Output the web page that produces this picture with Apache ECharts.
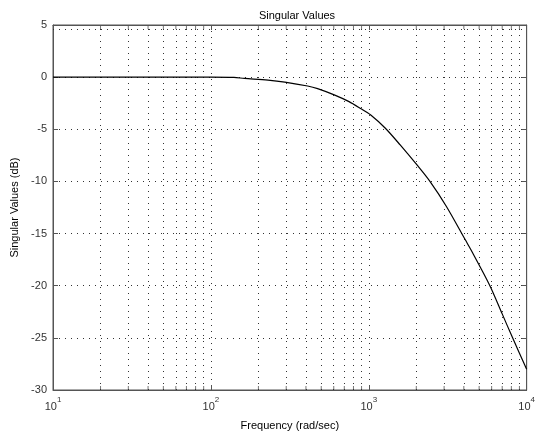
<!DOCTYPE html>
<html>
<head>
<meta charset="utf-8">
<script src="https://cdn.jsdelivr.net/npm/echarts@6/dist/echarts.min.js"></script>
<style>
html,body{margin:0;padding:0;background:#fff;}
#c{width:538px;height:442px;}
</style>
</head>
<body>
<div id="c"></div>
<script>
// Data
const freq = [10, 30, 100, 140, 163, 230, 294, 410, 474, 604, 750, 887, 1025, 1274, 1581, 2014, 2440, 3103, 4087, 4455, 5808, 7000, 8146, 10000];
const gain = [0, 0, 0, -0.03, -0.12, -0.28, -0.47, -0.85, -1.1, -1.7, -2.35, -3.0, -3.6, -4.9, -6.5, -8.4, -10.0, -12.4, -15.6, -16.6, -19.9, -22.7, -25.0, -28.0];
const minorFreq = [20,30,40,50,60,70,80,90,200,300,400,500,600,700,800,900,2000,3000,4000,5000,6000,7000,8000,9000];
const extraGridY = [4.55];
const yTicks = [-30, -25, -20, -15, -10, -5, 0, 5];
const titleText = 'Singular Values';
const xName = 'Frequency (rad/sec)';
const yName = 'Singular Values (dB)';

const chart = echarts.init(document.getElementById('c'), null, {renderer: 'canvas'});
const font = 'Liberation Sans, Arial, sans-serif';
const axisCol = '#555';
const dotStyle = {color: '#333', width: 1, type: [1, 5]};

const markLineData = minorFreq.map(f => ({xAxis: f})).concat(extraGridY.map(v => ({yAxis: v})));

const option = {
  animation: false,
  backgroundColor: '#fff',
  title: {
    text: titleText,
    left: 292, top: 5, textAlign: 'center',
    textStyle: {fontFamily: font, fontSize: 11, fontWeight: 'normal', color: '#000'}
  },
  grid: {left: 53, right: 7, top: 25, bottom: 52, show: true, borderColor: axisCol, borderWidth: 1},
  xAxis: [{
    type: 'log', logBase: 10, min: 10, max: 10000, position: 'bottom',
    name: xName, nameLocation: 'middle', nameGap: 30,
    nameTextStyle: {fontFamily: font, fontSize: 11, color: '#000'},
    axisLine: {show: true, onZero: false, lineStyle: {color: axisCol}},
    axisTick: {show: true, inside: true, length: 5, lineStyle: {color: axisCol}},
    axisLabel: {
      margin: 6,
      formatter: v => '{b|10}{s|' + Math.round(Math.log10(v)) + '}',
      rich: {
        b: {fontFamily: font, fontSize: 11, color: '#333', verticalAlign: 'bottom', lineHeight: 16},
        s: {fontFamily: font, fontSize: 8, color: '#333', verticalAlign: 'top', lineHeight: 8}
      }
    },
    splitLine: {show: true, lineStyle: dotStyle}
  }, {
    type: 'log', logBase: 10, min: 10, max: 10000, position: 'top',
    axisLine: {show: true, onZero: false, lineStyle: {color: axisCol}},
    axisTick: {show: true, inside: true, length: 5, lineStyle: {color: axisCol}},
    axisLabel: {show: false}, splitLine: {show: false}
  }],
  yAxis: [{
    type: 'value', min: -30, max: 5, interval: 5, position: 'left',
    name: yName, nameLocation: 'middle', nameGap: 33, nameRotate: 90,
    nameTextStyle: {fontFamily: font, fontSize: 11, color: '#000'},
    axisLine: {show: true, onZero: false, lineStyle: {color: axisCol}},
    axisTick: {show: true, inside: true, length: 5, lineStyle: {color: axisCol}},
    axisLabel: {margin: 6, fontFamily: font, fontSize: 11, color: '#333',
      formatter: v => yTicks.includes(v) ? String(v) : ''},
    splitLine: {show: true, lineStyle: dotStyle}
  }, {
    type: 'value', min: -30, max: 5, interval: 5, position: 'right',
    axisLine: {show: true, onZero: false, lineStyle: {color: axisCol}},
    axisTick: {show: true, inside: true, length: 5, lineStyle: {color: axisCol}},
    axisLabel: {show: false}, splitLine: {show: false}
  }],
  series: [{
    type: 'line',
    xAxisIndex: 0, yAxisIndex: 0,
    data: freq.map((f, i) => [f, gain[i]]),
    showSymbol: false, symbol: 'none',
    smooth: 0.3,
    lineStyle: {color: '#000', width: 1.2},
    z: 5,
    markLine: {
      silent: true, symbol: 'none', label: {show: false},
      lineStyle: dotStyle, animation: false,
      data: markLineData
    }
  }, {
    type: 'scatter', xAxisIndex: 0, yAxisIndex: 0,
    data: minorFreq.map(f => [f, -30]),
    symbol: 'rect', symbolSize: [1, 4], symbolOffset: [0, -2],
    itemStyle: {color: axisCol}, silent: true, clip: false, z: 4
  }, {
    type: 'scatter', xAxisIndex: 0, yAxisIndex: 0,
    data: minorFreq.map(f => [f, 5]),
    symbol: 'rect', symbolSize: [1, 4], symbolOffset: [0, 2],
    itemStyle: {color: axisCol}, silent: true, clip: false, z: 4
  }]
};
chart.setOption(option);
</script>
</body>
</html>
